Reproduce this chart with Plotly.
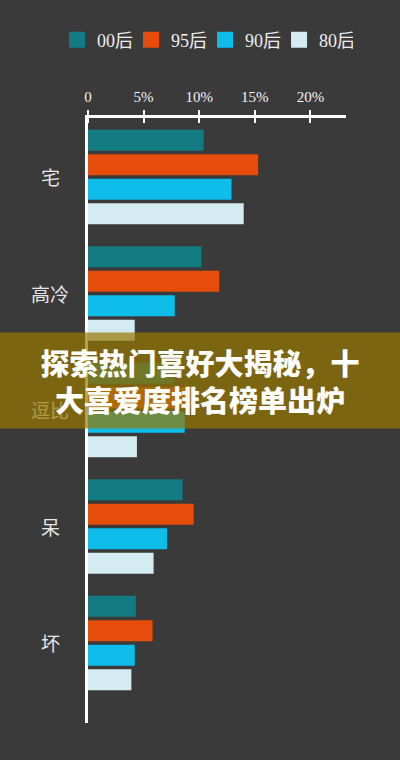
import plotly.graph_objects as go

# 类别与各年龄段占比（%）
categories = ["宅", "高冷", "逗比", "呆", "坏"]
series_names = ["00后", "95后", "90后", "80后"]
val_00 = [10.4, 10.2, 7.7, 8.5, 4.3]
val_95 = [15.3, 11.8, 9.3, 9.5, 5.8]
val_90 = [12.9, 7.8, 8.7, 7.1, 4.2]
val_80 = [14.0, 4.2, 4.4, 5.9, 3.9]
tick_vals = [0, 5, 10, 15, 20]
tick_text = ["0", "5%", "10%", "15%", "20%"]
banner_text = "探索热门喜好大揭秘，十<br>大喜爱度排名榜单出炉"

colors = ["#137b82", "#e84c0b", "#0ebde9", "#d3ebf1"]
BG = "#3a3a3a"
SERIF = "Liberation Serif, Noto Sans CJK SC"
SANS = "Noto Sans CJK SC"

fig = go.Figure()
for name, vals, c in zip(series_names, [val_00, val_95, val_90, val_80], colors):
    fig.add_trace(go.Bar(
        y=categories, x=vals, orientation="h", name=name,
        marker=dict(color=c, line=dict(width=0)), showlegend=False,
    ))
    # legend proxy with a bigger square
    fig.add_trace(go.Scatter(
        x=[None], y=[None], mode="markers", name=name,
        marker=dict(symbol="square", size=18, color=c),
    ))

# category labels (centered, drawn under the banner)
for cat in categories:
    fig.add_annotation(
        x=-0.147, xref="paper", y=cat, yref="y", text=cat, showarrow=False,
        xanchor="center", yanchor="middle",
        font=dict(family=SANS, size=19, color="#e6e6e6"),
    )

# title banner across the chart
fig.add_annotation(
    x=0.434, xref="paper", y=0.566, yref="paper", text=banner_text,
    showarrow=False, xanchor="center", yanchor="middle",
    width=402, height=95, bgcolor="rgba(152,120,0,0.7)", borderpad=0,
    font=dict(family=SANS, size=29, color="white", weight=900),
)

fig.update_layout(
    width=400, height=760,
    margin=dict(l=88, r=54, t=118, b=37),
    paper_bgcolor=BG, plot_bgcolor=BG,
    barmode="group", bargap=0.159, bargroupgap=0.143,
    legend=dict(
        orientation="h", x=-0.12, xanchor="left", y=1.129, yanchor="middle",
        entrywidth=29,
        font=dict(family=SERIF, size=18, color="#eeeeee"),
        bgcolor="rgba(0,0,0,0)", itemclick=False,
    ),
    xaxis=dict(
        side="top", range=[0, 23.2], showgrid=False, zeroline=False,
        showline=True, linecolor="white", linewidth=3,
        tickmode="array", tickvals=tick_vals, ticktext=tick_text,
        ticks="outside", ticklen=5, tickwidth=2, tickcolor="white",
        minor=dict(tickmode="array", tickvals=tick_vals, ticks="inside",
                   ticklen=5, tickwidth=2, tickcolor="white"),
        ticklabelstandoff=2,
        tickfont=dict(family=SERIF, size=15, color="#f2f2f2"),
        fixedrange=True,
    ),
    yaxis=dict(
        type="category", range=[4.687, -0.506], showgrid=False, zeroline=False,
        showline=True, linecolor="white", linewidth=3,
        showticklabels=False, ticks="", fixedrange=True,
    ),
)

fig.write_html(
    "out.html",
    config={"displayModeBar": False},
    post_script="document.body.style.margin='0';document.body.style.background='#3a3a3a';",
)
